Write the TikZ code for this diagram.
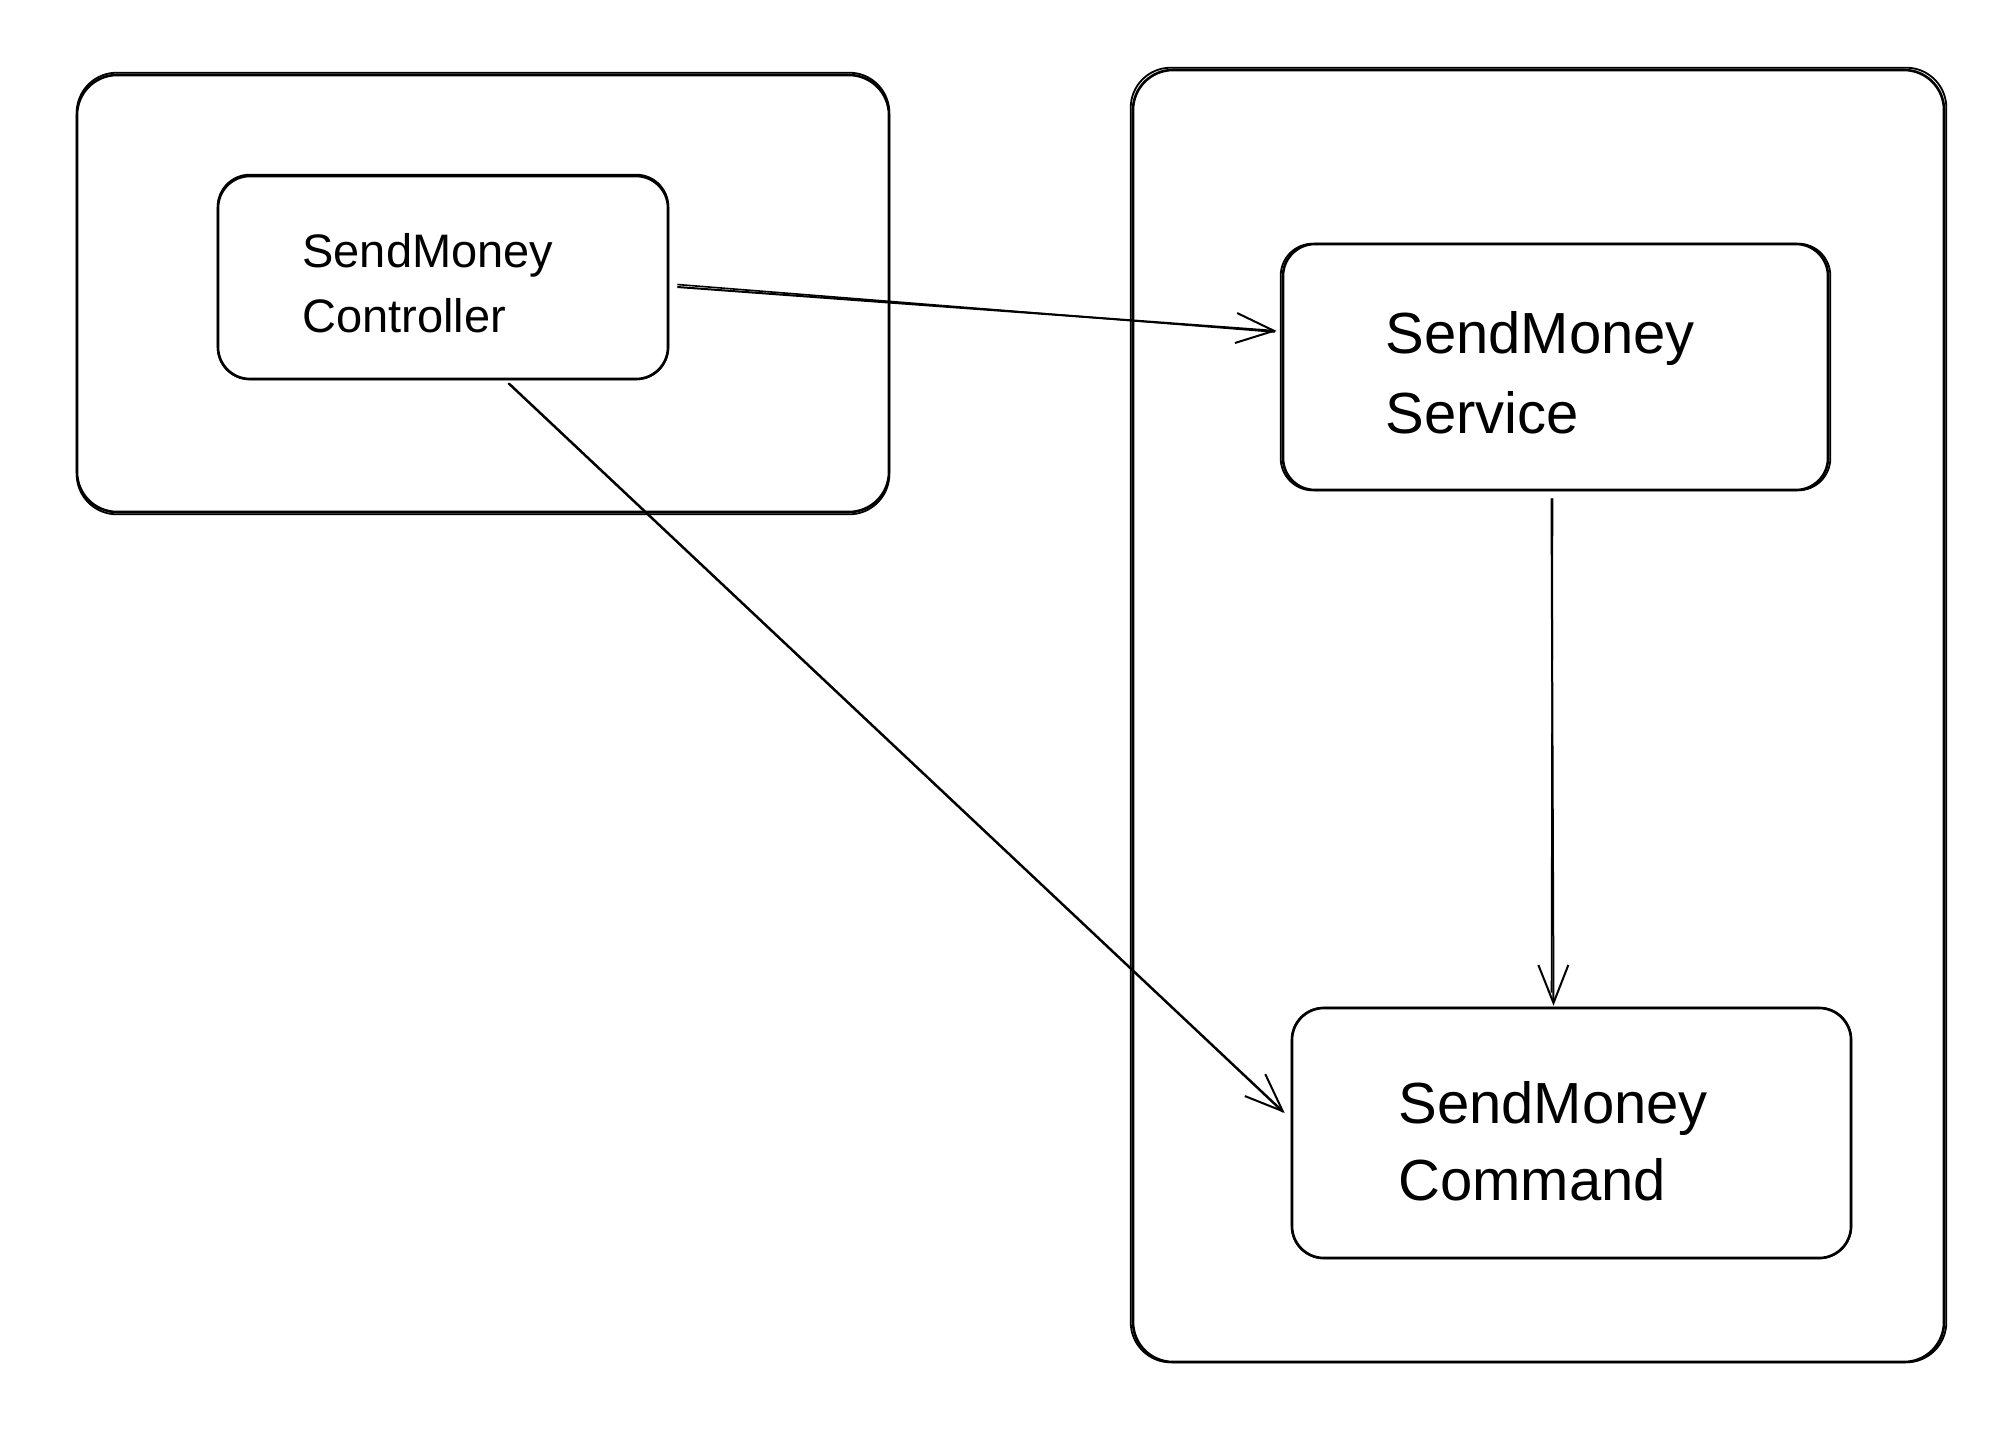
\documentclass[tikz,border=0pt]{standalone}
\usepackage{fontspec}
\setmainfont{Liberation Sans}
\usetikzlibrary{arrows.meta,calc,fit}
\begin{document}
\begin{tikzpicture}[x=0.5pt,y=-0.5pt,
  skbox/.style={draw=black, line width=1.3pt, rounded corners=#1, inner sep=0pt},
  skbox/.default=16pt,
  sktwo/.style={draw=black, line width=0.9pt, rounded corners=#1},
  sktwo/.default=16pt,
  lblsmall/.style={anchor=base west, inner sep=0pt, font=\fontsize{23.5}{28}\selectfont},
  lblbig/.style={anchor=base west, inner sep=0pt, font=\fontsize{29}{34}\selectfont},
  conn/.style={line width=1pt, -{Straight Barb[length=19pt,width=15pt,line width=1pt]}},
  conntwo/.style={line width=0.8pt}]
\useasboundingbox (0,0) rectangle (2000,1430);
\fill[white] (0,0) rectangle (2000,1430);

% outer boxes
\node[skbox=20pt, fit={(77,75) (889,512)}] (lft) {};
\draw[sktwo=20pt] ($(lft.north west)+(1,-1)$) rectangle ($(lft.south east)+(-1,1)$);
\node[skbox=20pt, fit={(1133,70) (1944,1362)}] (rgt) {};
\draw[sktwo=20pt] ($(rgt.north west)+(-1,-1)$) rectangle ($(rgt.south east)+(1,-1)$);

% inner boxes
\node[skbox, fit={(218,176) (668,379)}] (ctrl) {};
\draw[sktwo] ($(ctrl.north west)+(1,0)$) rectangle ($(ctrl.south east)+(-1,-1)$);
\node[skbox, fit={(1283,244) (1828,490)}] (svc) {};
\draw[sktwo] ($(svc.north west)+(-1,1)$) rectangle ($(svc.south east)+(1,-1)$);
\node[skbox, fit={(1292,1008) (1851,1258)}] (cmd) {};
\draw[sktwo] ($(cmd.north west)+(1,1)$) rectangle ($(cmd.south east)+(-1,-1)$);

% labels
\node[lblsmall] (ctrla) at (302,267) {SendMoney};
\node[lblsmall] (ctrlb) at (302,332) {Controller};
\node[lblbig] (svca) at (1385,353) {SendMoney};
\node[lblbig] (svcb) at (1385,433) {Service};
\node[lblbig] (cmda) at (1398,1123) {SendMoney};
\node[lblbig] (cmdb) at (1398,1200) {Command};

% connectors
\draw[conn] ($(ctrl.east)+(8,9.5)$) -- ($(svc.west)+(-5,-36)$);
\draw[conntwo] ($(ctrl.east)+(8,7)$) -- ($(svc.west)+(-7,-35)$);

\draw[conn] ($(ctrl.south)+(66,3)$) -- ($(cmd.west)+(-6,-20)$);
\draw[conntwo] ($(ctrl.south)+(65,3)$) -- ($(cmd.west)+(-8,-21)$);

\draw[conn] ($(svc.south)+(-4,7)$) -- ($(cmd.north)+(-18,-1)$);
\draw[conntwo] ($(svc.south)+(-3,7)$) -- ($(cmd.north)+(-20,-14)$);
\end{tikzpicture}
\end{document}
